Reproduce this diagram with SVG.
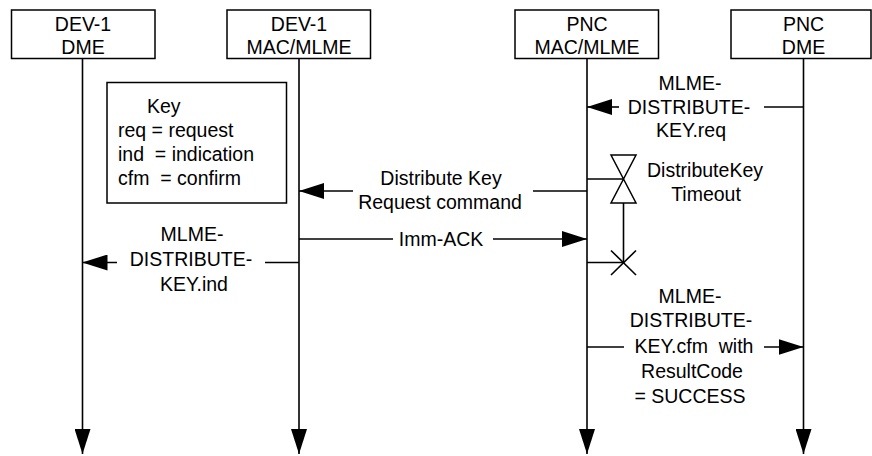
<svg xmlns="http://www.w3.org/2000/svg" width="872" height="456" viewBox="0 0 872 456">
<defs>
<style>
.box{fill:#fff;stroke:#000;stroke-width:1.5}
.ln{fill:none;stroke:#000;stroke-width:1.6}
.t{font-family:"Liberation Sans",Arial,sans-serif;font-size:19.5px;fill:#000;white-space:pre}
.c{text-anchor:middle}
.tm{fill:#fff;stroke:#000;stroke-width:1.5}
</style>
<marker id="ah" markerUnits="userSpaceOnUse" markerWidth="25" markerHeight="16" refX="25" refY="8" orient="auto" viewBox="0 0 25 16">
<path d="M0,0 L25,8 L0,16 z" fill="#000"/>
</marker>
</defs>
<rect width="872" height="456" fill="#fff"/>

<g id="dev1-dme">
<rect class="box" x="11.5" y="10" width="143.5" height="48.5"/>
<text class="t c" x="83" y="30.5">DEV-1</text>
<text class="t c" x="83" y="53.5">DME</text>
</g>
<g id="dev1-mac">
<rect class="box" x="227" y="10" width="143.5" height="48.5"/>
<text class="t c" x="299" y="30.5">DEV-1</text>
<text class="t c" x="299" y="53.5">MAC/MLME</text>
</g>
<g id="pnc-mac">
<rect class="box" x="515" y="10" width="143.5" height="48.5"/>
<text class="t c" x="587" y="30.5">PNC</text>
<text class="t c" x="587" y="53.5">MAC/MLME</text>
</g>
<g id="pnc-dme">
<rect class="box" x="731" y="10" width="140" height="48.5"/>
<text class="t c" x="803.5" y="30.5">PNC</text>
<text class="t c" x="803.5" y="53.5">DME</text>
</g>

<g id="key">
<rect class="box" x="107" y="82.5" width="179.5" height="120.5"/>
<text class="t" x="147" y="112.7">Key</text>
<text class="t" x="118" y="136.7">req = request</text>
<text class="t" x="118" y="161">ind  = indication</text>
<text class="t" x="118" y="185">cfm  = confirm</text>
</g>

<g id="timer">
<line class="ln" x1="587" y1="179" x2="623.5" y2="179"/>
<polygon class="tm" points="611,155 636,155 623.5,179"/>
<polygon class="tm" points="623.5,179 611,203 636,203"/>
<line class="ln" x1="623.5" y1="203" x2="623.5" y2="262.5"/>
<line class="ln" x1="587" y1="262.5" x2="623.5" y2="262.5"/>
<line class="ln" x1="611" y1="250.5" x2="636" y2="275"/>
<line class="ln" x1="636" y1="250.5" x2="611" y2="275"/>
<text class="t c" x="705" y="177">DistributeKey</text>
<text class="t c" x="706" y="201">Timeout</text>
</g>

<g id="connectors">
<line class="ln" x1="82.5" y1="58.5" x2="82.5" y2="454" marker-end="url(#ah)"/>
<line class="ln" x1="299" y1="58.5" x2="299" y2="454" marker-end="url(#ah)"/>
<line class="ln" x1="587" y1="58.5" x2="587" y2="454" marker-end="url(#ah)"/>
<line class="ln" x1="803.5" y1="58.5" x2="803.5" y2="454" marker-end="url(#ah)"/>

<line class="ln" x1="803.5" y1="107" x2="764" y2="107"/>
<line class="ln" x1="619" y1="107" x2="587" y2="107" marker-end="url(#ah)"/>
<text class="t c" x="690" y="90">MLME-</text>
<text class="t c" x="689" y="113.5">DISTRIBUTE-</text>
<text class="t c" x="691" y="137">KEY.req</text>

<line class="ln" x1="587" y1="191" x2="533" y2="191"/>
<line class="ln" x1="353" y1="191" x2="299" y2="191" marker-end="url(#ah)"/>
<text class="t c" x="441" y="185">Distribute Key</text>
<text class="t c" x="440" y="209">Request command</text>

<line class="ln" x1="299" y1="239" x2="393" y2="239"/>
<line class="ln" x1="493" y1="239" x2="587" y2="239" marker-end="url(#ah)"/>
<text class="t c" x="441" y="246">Imm-ACK</text>

<line class="ln" x1="299" y1="262.5" x2="265" y2="262.5"/>
<line class="ln" x1="117" y1="262.5" x2="82.5" y2="262.5" marker-end="url(#ah)"/>
<text class="t c" x="192" y="240.5">MLME-</text>
<text class="t c" x="191" y="265.5">DISTRIBUTE-</text>
<text class="t c" x="194" y="290.5">KEY.ind</text>

<line class="ln" x1="587" y1="347" x2="624" y2="347"/>
<line class="ln" x1="764" y1="347" x2="803.5" y2="347" marker-end="url(#ah)"/>
<text class="t c" x="690" y="302.7">MLME-</text>
<text class="t c" x="691" y="327.3">DISTRIBUTE-</text>
<text class="t c" x="694" y="353.3">KEY.cfm  with</text>
<text class="t c" x="692" y="378.3">ResultCode</text>
<text class="t c" x="690" y="403.3">= SUCCESS</text>
</g>
</svg>
